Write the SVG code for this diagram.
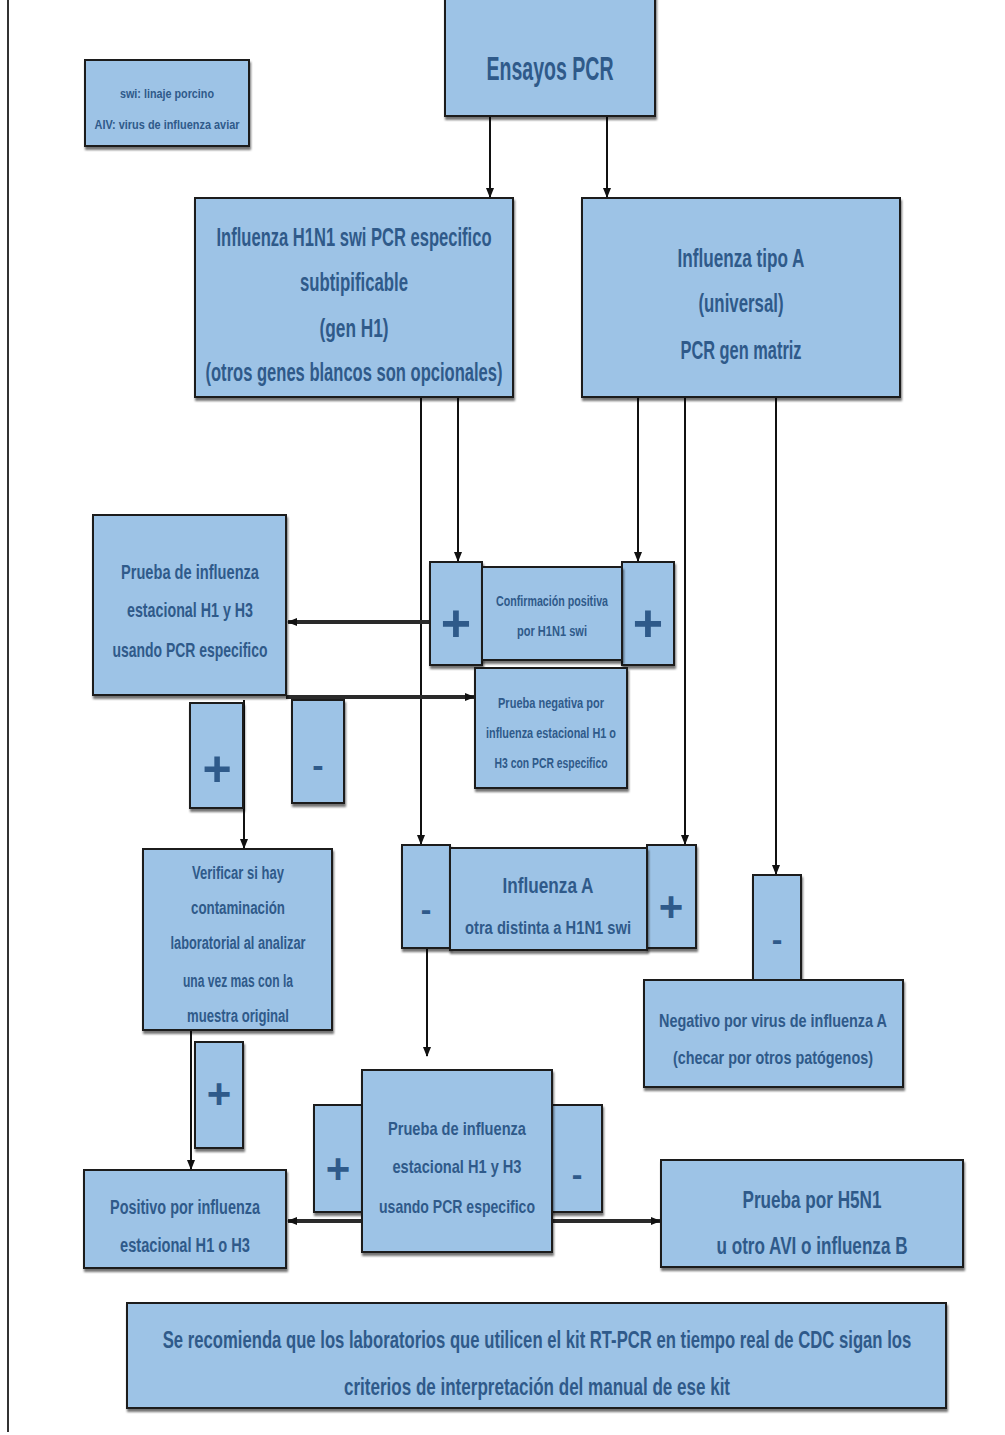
<svg xmlns="http://www.w3.org/2000/svg" width="1005" height="1435" viewBox="0 0 1005 1435">
<defs>
<filter id="sh" x="-10%" y="-10%" width="130%" height="130%">
<feDropShadow dx="1" dy="3" stdDeviation="1.2" flood-color="#000" flood-opacity="0.55"/>
</filter>
<marker id="ah" markerWidth="10" markerHeight="10" refX="9" refY="5" orient="auto" markerUnits="userSpaceOnUse">
<path d="M0,1 L10,5 L0,9 z" fill="#111"/>
</marker>
</defs>
<style>
.box{fill:#9dc3e6;stroke:#1c1c1c;stroke-width:2;filter:url(#sh)}
.t{font-family:"Liberation Sans",Arial,sans-serif;fill:#2f5a8a;text-anchor:middle;font-weight:bold}
.sym{font-family:"Liberation Sans",Arial,sans-serif;fill:#2f5a8a;text-anchor:middle;font-weight:bold}
.c{stroke:#111;stroke-width:2;fill:none}
.ct{stroke:#2a2a2a;stroke-width:4;fill:none}
</style>
<rect width="1005" height="1435" fill="#fff"/>
<line x1="8" y1="0" x2="8" y2="1432" stroke="#333" stroke-width="2"/>

<g id="connectors">
<line class="c" x1="490" y1="116" x2="490" y2="197" marker-end="url(#ah)"/>
<line class="c" x1="607" y1="116" x2="607" y2="197" marker-end="url(#ah)"/>
<line class="c" x1="421" y1="397" x2="421" y2="844" marker-end="url(#ah)"/>
<line class="c" x1="458" y1="397" x2="458" y2="561" marker-end="url(#ah)"/>
<line class="c" x1="638" y1="397" x2="638" y2="561" marker-end="url(#ah)"/>
<line class="c" x1="685" y1="397" x2="685" y2="844" marker-end="url(#ah)"/>
<line class="c" x1="776" y1="397" x2="776" y2="874" marker-end="url(#ah)"/>
<line class="ct" x1="430" y1="622" x2="288" y2="622" marker-end="url(#ah)"/>
<line class="ct" x1="286" y1="697" x2="474" y2="697" marker-end="url(#ah)"/>
<line class="c" x1="244" y1="700" x2="244" y2="848" marker-end="url(#ah)"/>
<line class="c" x1="191" y1="1030" x2="191" y2="1169" marker-end="url(#ah)"/>
<line class="c" x1="427" y1="948" x2="427" y2="1056" marker-end="url(#ah)"/>
<line class="ct" x1="362" y1="1221" x2="288" y2="1221" marker-end="url(#ah)"/>
<line class="ct" x1="552" y1="1221" x2="660" y2="1221" marker-end="url(#ah)"/>
</g>

<g id="legend">
<rect class="box" x="85" y="60" width="164" height="86"/>
<text class="t" x="167" y="97.5" font-size="13" textLength="94" lengthAdjust="spacingAndGlyphs">swi: linaje porcino</text>
<text class="t" x="167" y="128.5" font-size="13" textLength="145" lengthAdjust="spacingAndGlyphs">AIV: virus de influenza aviar</text>
</g>

<g id="ensayos">
<rect class="box" x="445" y="-4" width="210" height="120"/>
<text class="t" x="550" y="80" font-size="34" textLength="127" lengthAdjust="spacingAndGlyphs">Ensayos PCR</text>
</g>

<g id="h1n1">
<rect class="box" x="195" y="198" width="318" height="199"/>
<text class="t" x="354" y="246" font-size="25" textLength="275" lengthAdjust="spacingAndGlyphs">Influenza H1N1 swi PCR especifico</text>
<text class="t" x="354" y="291" font-size="25" textLength="108" lengthAdjust="spacingAndGlyphs">subtipificable</text>
<text class="t" x="354" y="337" font-size="25" textLength="69" lengthAdjust="spacingAndGlyphs">(gen H1)</text>
<text class="t" x="354" y="381" font-size="25" textLength="297" lengthAdjust="spacingAndGlyphs">(otros genes blancos son opcionales)</text>
</g>

<g id="tipoA">
<rect class="box" x="582" y="198" width="318" height="199"/>
<text class="t" x="741" y="267" font-size="25" textLength="127" lengthAdjust="spacingAndGlyphs">Influenza tipo A</text>
<text class="t" x="741" y="312" font-size="25" textLength="85" lengthAdjust="spacingAndGlyphs">(universal)</text>
<text class="t" x="741" y="359" font-size="25" textLength="121" lengthAdjust="spacingAndGlyphs">PCR gen matriz</text>
</g>

<g id="prueba-estacional-1">
<rect class="box" x="93" y="515" width="193" height="180"/>
<text class="t" x="190" y="579" font-size="21" textLength="138" lengthAdjust="spacingAndGlyphs">Prueba de influenza</text>
<text class="t" x="190" y="617" font-size="21" textLength="126" lengthAdjust="spacingAndGlyphs">estacional H1 y H3</text>
<text class="t" x="190" y="657" font-size="21" textLength="155" lengthAdjust="spacingAndGlyphs">usando PCR especifico</text>
</g>

<g id="confirmacion">
<rect class="box" x="430" y="562" width="52" height="103"/>
<text class="sym" x="456" y="641" font-size="52">+</text>
<rect class="box" x="622" y="562" width="52" height="103"/>
<text class="sym" x="648" y="641" font-size="52">+</text>
<rect class="box" x="482" y="567" width="140" height="93"/>
<text class="t" x="552" y="606" font-size="14" textLength="112" lengthAdjust="spacingAndGlyphs">Confirmación positiva</text>
<text class="t" x="552" y="636" font-size="14" textLength="70" lengthAdjust="spacingAndGlyphs">por H1N1 swi</text>
</g>

<g id="prueba-negativa">
<rect class="box" x="475" y="668" width="152" height="120"/>
<text class="t" x="551" y="708" font-size="14" textLength="106" lengthAdjust="spacingAndGlyphs">Prueba negativa por</text>
<text class="t" x="551" y="738" font-size="14" textLength="130" lengthAdjust="spacingAndGlyphs">influenza estacional H1 o</text>
<text class="t" x="551" y="768" font-size="14" textLength="113" lengthAdjust="spacingAndGlyphs">H3 con PCR especifico</text>
</g>

<g id="plus-1">
<rect class="box" x="190" y="703" width="53" height="105"/>
<text class="sym" x="217" y="786" font-size="50">+</text>
</g>

<g id="minus-1">
<rect class="box" x="292" y="700" width="52" height="103"/>
<text class="sym" x="318" y="777" font-size="34">-</text>
</g>

<g id="verificar">
<rect class="box" x="143" y="849" width="189" height="181"/>
<text class="t" x="238" y="879" font-size="18" textLength="92" lengthAdjust="spacingAndGlyphs">Verificar si hay</text>
<text class="t" x="238" y="914" font-size="18" textLength="94" lengthAdjust="spacingAndGlyphs">contaminación</text>
<text class="t" x="238" y="949" font-size="18" textLength="135" lengthAdjust="spacingAndGlyphs">laboratorial al analizar</text>
<text class="t" x="238" y="987" font-size="18" textLength="110" lengthAdjust="spacingAndGlyphs">una vez mas  con la</text>
<text class="t" x="238" y="1022" font-size="18" textLength="102" lengthAdjust="spacingAndGlyphs">muestra original</text>
</g>

<g id="influenza-a">
<rect class="box" x="402" y="845" width="48" height="103"/>
<text class="sym" x="426" y="920" font-size="32">-</text>
<rect class="box" x="647" y="845" width="49" height="103"/>
<text class="sym" x="671" y="921" font-size="42">+</text>
<rect class="box" x="450" y="848" width="197" height="102"/>
<text class="t" x="548" y="893" font-size="22" textLength="91" lengthAdjust="spacingAndGlyphs">Influenza A</text>
<text class="t" x="548" y="934" font-size="18" textLength="166" lengthAdjust="spacingAndGlyphs">otra distinta a H1N1 swi</text>
</g>

<g id="minus-2">
<rect class="box" x="753" y="875" width="48" height="105"/>
<text class="sym" x="777" y="950" font-size="32">-</text>
</g>

<g id="negativo-a">
<rect class="box" x="644" y="980" width="259" height="107"/>
<text class="t" x="773" y="1027" font-size="19" textLength="228" lengthAdjust="spacingAndGlyphs">Negativo por virus de influenza A</text>
<text class="t" x="773" y="1064" font-size="19" textLength="200" lengthAdjust="spacingAndGlyphs">(checar por otros patógenos)</text>
</g>

<g id="plus-2">
<rect class="box" x="195" y="1042" width="48" height="106"/>
<text class="sym" x="219" y="1108" font-size="42">+</text>
</g>

<g id="prueba-estacional-2">
<rect class="box" x="314" y="1105" width="48" height="107"/>
<text class="sym" x="338" y="1183" font-size="42">+</text>
<rect class="box" x="552" y="1105" width="50" height="107"/>
<text class="sym" x="577" y="1185" font-size="32">-</text>
<rect class="box" x="362" y="1070" width="190" height="182"/>
<text class="t" x="457" y="1135" font-size="19" textLength="138" lengthAdjust="spacingAndGlyphs">Prueba de influenza</text>
<text class="t" x="457" y="1173" font-size="19" textLength="129" lengthAdjust="spacingAndGlyphs">estacional H1 y H3</text>
<text class="t" x="457" y="1213" font-size="19" textLength="156" lengthAdjust="spacingAndGlyphs">usando PCR especifico</text>
</g>

<g id="positivo">
<rect class="box" x="84" y="1170" width="202" height="98"/>
<text class="t" x="185" y="1214" font-size="20" textLength="150" lengthAdjust="spacingAndGlyphs">Positivo por influenza</text>
<text class="t" x="185" y="1252" font-size="20" textLength="130" lengthAdjust="spacingAndGlyphs">estacional H1 o H3</text>
</g>

<g id="h5n1">
<rect class="box" x="661" y="1160" width="302" height="107"/>
<text class="t" x="812" y="1208" font-size="24" textLength="139" lengthAdjust="spacingAndGlyphs">Prueba por H5N1</text>
<text class="t" x="812" y="1254" font-size="24" textLength="191" lengthAdjust="spacingAndGlyphs">u otro AVI o influenza B</text>
</g>

<g id="nota">
<rect class="box" x="127" y="1303" width="819" height="105"/>
<text class="t" transform="translate(537,1348) scale(0.695,1)" font-size="24">Se recomienda que los laboratorios que utilicen el kit RT-PCR en tiempo real de CDC sigan los</text>
<text class="t" transform="translate(537,1395) scale(0.71,1)" font-size="24">criterios de interpretación del manual de ese kit</text>
</g>
</svg>
